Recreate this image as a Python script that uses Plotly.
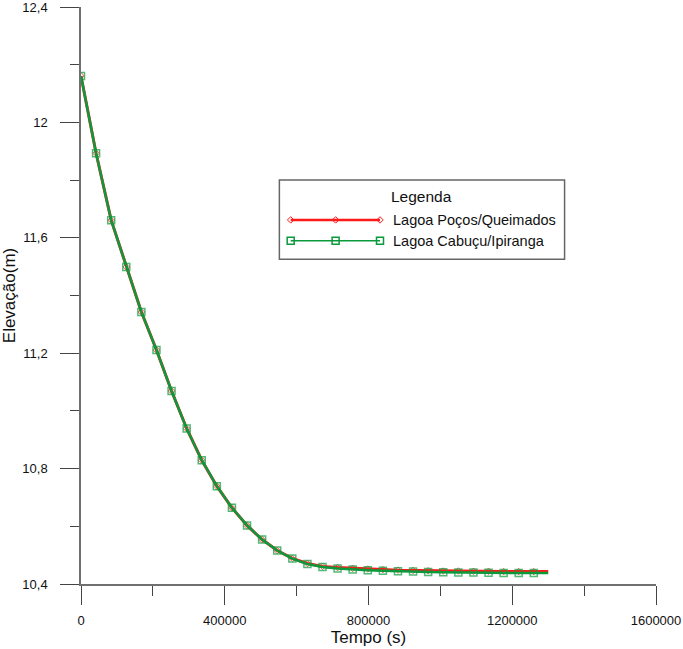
import plotly.graph_objects as go

# ---------------- data ----------------
tempo_s = [0, 42000, 84000, 126000, 168000, 210000, 252000, 294000, 336000, 378000,
           420000, 462000, 504000, 546000, 588000, 630000, 672000, 714000, 756000, 798000,
           840000, 882000, 924000, 966000, 1008000, 1050000, 1092000, 1134000, 1176000,
           1218000, 1260000, 1300000]

elev_pocos = [12.161, 11.893, 11.661, 11.499, 11.343, 11.211, 11.069, 10.939, 10.829, 10.739,
              10.664, 10.603, 10.554, 10.516, 10.489, 10.471, 10.461, 10.457, 10.454, 10.452,
              10.450, 10.448, 10.447, 10.446, 10.445, 10.445, 10.444, 10.444, 10.443, 10.443,
              10.443, 10.443]

elev_cabucu = [12.161, 11.893, 11.661, 11.499, 11.343, 11.211, 11.069, 10.939, 10.829, 10.739,
               10.664, 10.603, 10.554, 10.516, 10.488, 10.469, 10.459, 10.454, 10.450, 10.448,
               10.446, 10.444, 10.443, 10.442, 10.441, 10.440, 10.440, 10.439, 10.438, 10.438,
               10.438, 10.438]

serie_nomes = ["Lagoa Poços/Queimados", "Lagoa Cabuçu/Ipiranga"]
legenda_titulo = "Legenda"

x_tick_vals = [0, 400000, 800000, 1200000, 1600000]
x_tick_text = ["0", "400000", "800000", "1200000", "1600000"]
y_tick_vals = [10.4, 10.8, 11.2, 11.6, 12.0, 12.4]
y_tick_text = ["10,4", "10,8", "11,2", "11,6", "12", "12,4"]

x_titulo = "Tempo (s)"
y_titulo = "Elevação(m)"

# ---------------- style ----------------
RED = "#ff1a1a"
GREEN = "#0a9a3c"
FONT = "Liberation Sans, Arial, sans-serif"

n = len(tempo_s)
marker_sizes_sq = [7] * (n - 1) + [0]
marker_sizes_di = [5] * (n - 1) + [0]

fig = go.Figure()

fig.add_trace(go.Scatter(
    x=tempo_s, y=elev_pocos, name=serie_nomes[0], mode="lines+markers",
    line=dict(color=RED, width=3),
    marker=dict(symbol="diamond-open", size=marker_sizes_di, color=RED, line=dict(width=1, color=RED)),
    showlegend=False,
))
fig.add_trace(go.Scatter(
    x=tempo_s, y=elev_cabucu, name=serie_nomes[1], mode="lines+markers",
    line=dict(color=GREEN, width=2.5),
    marker=dict(symbol="square-open", size=marker_sizes_sq, color=GREEN, line=dict(width=1.5, color=GREEN)),
    showlegend=False,
))

# ---------------- custom legend (overlay axes in paper-like units) ----------------
leg_x = [0.3647, 0.4428, 0.5200]
leg_y_red = 0.631
leg_y_green = 0.595
fig.add_trace(go.Scatter(
    x=leg_x, y=[leg_y_red] * 3, mode="lines+markers", xaxis="x2", yaxis="y2",
    line=dict(color=RED, width=2.5),
    marker=dict(symbol="diamond-open", size=5, color=RED, line=dict(width=1, color=RED)),
    showlegend=False, hoverinfo="skip",
))
fig.add_trace(go.Scatter(
    x=leg_x, y=[leg_y_green] * 3, mode="lines+markers", xaxis="x2", yaxis="y2",
    line=dict(color=GREEN, width=1.5),
    marker=dict(symbol="square-open", size=7, color=GREEN, line=dict(width=1.5, color=GREEN)),
    showlegend=False, hoverinfo="skip",
))

fig.add_shape(type="rect", xref="paper", yref="paper", x0=0.345, x1=0.841, y0=0.563, y1=0.700,
              line=dict(color="#666666", width=1.5), fillcolor="rgba(0,0,0,0)", layer="below")

fig.add_annotation(text=legenda_titulo, xref="paper", yref="paper", x=0.593, y=0.671,
                   showarrow=False, font=dict(size=15.5, color="#111", family=FONT),
                   xanchor="center", yanchor="middle")
fig.add_annotation(text=serie_nomes[0], xref="paper", yref="paper", x=0.5386, y=leg_y_red,
                   showarrow=False, font=dict(size=14.5, color="#111", family=FONT),
                   xanchor="left", yanchor="middle")
fig.add_annotation(text=serie_nomes[1], xref="paper", yref="paper", x=0.5386, y=leg_y_green,
                   showarrow=False, font=dict(size=14.5, color="#111", family=FONT),
                   xanchor="left", yanchor="middle")

axis_common = dict(
    showgrid=False, zeroline=False, showline=True, linecolor="#707070", linewidth=1.5,
    ticks="outside", ticklen=19, tickwidth=1.3, tickcolor="#444444",
    tickfont=dict(size=13, color="#111", family=FONT),
    tickmode="array", automargin=False, ticklabeloverflow="allow",
)

fig.update_layout(
    width=683, height=649,
    margin=dict(l=81, r=27, t=7, b=65),
    paper_bgcolor="white", plot_bgcolor="white",
    font=dict(family=FONT, color="#111"),
    xaxis=dict(
        **axis_common,
        range=[0, 1600000], tickvals=x_tick_vals, ticktext=x_tick_text,
        ticklabelstandoff=5,
        minor=dict(dtick=200000, tick0=0, ticklen=10, tickwidth=1.2, tickcolor="#444444", ticks="outside", showgrid=False),
        title=dict(text=x_titulo, font=dict(size=17, family=FONT, color="#111"), standoff=4),
    ),
    yaxis=dict(
        **axis_common,
        range=[10.4, 12.4], tickvals=y_tick_vals, ticktext=y_tick_text,
        ticklabelstandoff=10,
        minor=dict(dtick=0.2, tick0=10.4, ticklen=9, tickwidth=1.2, tickcolor="#444444", ticks="outside", showgrid=False),
        title=dict(text=y_titulo, font=dict(size=17, family=FONT, color="#111"), standoff=3),
    ),
    xaxis2=dict(overlaying="x", anchor="y2", range=[0, 1], visible=False, fixedrange=True),
    yaxis2=dict(overlaying="y", anchor="x2", range=[0, 1], visible=False, fixedrange=True),
)

fig.write_html("out.html")
